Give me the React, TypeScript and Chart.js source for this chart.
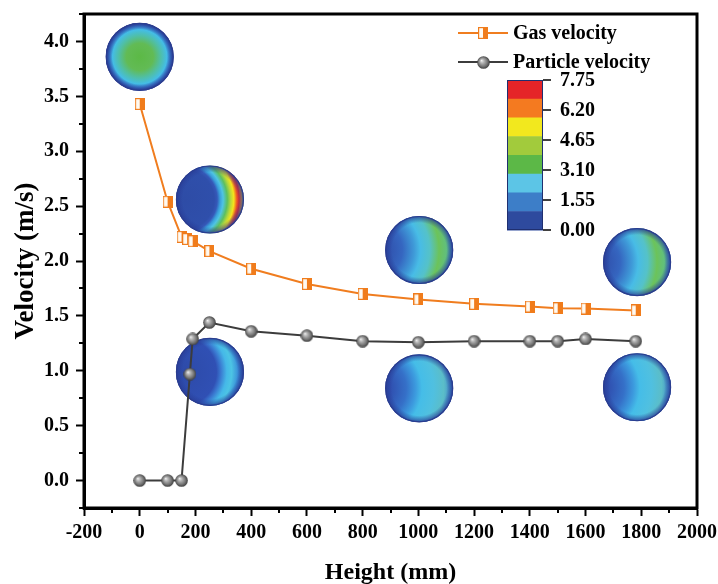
import React, { useEffect, useRef } from "react";
import { Chart, registerables } from "chart.js";

Chart.register(...registerables);

// ---------- data ----------
const gasHeights = [0, 100, 150, 170, 190, 250, 400, 600, 800, 1000, 1200, 1400, 1500, 1600, 1780];
const gasVelocity = [3.43, 2.54, 2.22, 2.2, 2.18, 2.09, 1.93, 1.79, 1.7, 1.65, 1.61, 1.585, 1.57, 1.567, 1.55];
const particleHeights = [0, 100, 150, 180, 190, 250, 400, 600, 800, 1000, 1200, 1400, 1500, 1600, 1780];
const particleVelocity = [0, 0, 0, 0.97, 1.29, 1.44, 1.36, 1.32, 1.27, 1.26, 1.27, 1.27, 1.27, 1.29, 1.27];

const xTicks = [-200, 0, 200, 400, 600, 800, 1000, 1200, 1400, 1600, 1800, 2000];
const yTicks = [0, 0.5, 1.0, 1.5, 2.0, 2.5, 3.0, 3.5, 4.0];
const xMinorTicks = [-100, 100, 300, 500, 700, 900, 1100, 1300, 1500, 1700, 1900];
const yMinorTicks = [-0.25, 0.25, 0.75, 1.25, 1.75, 2.25, 2.75, 3.25, 3.75, 4.25];

const colorbarLabels = ["7.75", "6.20", "4.65", "3.10", "1.55", "0.00"];
const colorbarColors = ["#e52428", "#f47a20", "#f2e81e", "#a2cb3c", "#5cb847", "#5cc5e6", "#3d7ec8", "#2e4a9e"];

// cross-section contour insets, anchored at (height, velocity)
const insetHeights = [0, 252, 252, 1003, 1785, 1003, 1785];
const insetVelocities = [3.86, 2.56, 0.99, 2.1, 1.99, 0.84, 0.85];
const insetKinds = ["center", "hot", "crescent", "mild", "mild", "cool", "cool"];

const FONT = "'Liberation Serif', 'Times New Roman', serif";

function drawDisc(ctx: CanvasRenderingContext2D, cx: number, cy: number, r: number, kind: string) {
  ctx.save();
  ctx.beginPath();
  ctx.arc(cx, cy, r, 0, Math.PI * 2);
  ctx.closePath();
  ctx.clip();
  let g: CanvasGradient;
  if (kind === "center") {
    g = ctx.createRadialGradient(cx, cy, 0, cx, cy, r);
    g.addColorStop(0, "#5cb946");
    g.addColorStop(0.4, "#62bb55");
    g.addColorStop(0.62, "#4fbfa8");
    g.addColorStop(0.8, "#44bde6");
    g.addColorStop(0.9, "#3a84d2");
    g.addColorStop(1, "#2c3f95");
  } else if (kind === "hot") {
    const ox = cx - 0.75 * r;
    g = ctx.createRadialGradient(ox, cy, 0, ox, cy, 1.75 * r);
    g.addColorStop(0, "#2e4ca6");
    g.addColorStop(0.5, "#2f4fab");
    g.addColorStop(0.55, "#3558b8");
    g.addColorStop(0.6, "#3aa0dc");
    g.addColorStop(0.65, "#4fc4e4");
    g.addColorStop(0.72, "#5cbf60");
    g.addColorStop(0.78, "#b8d83a");
    g.addColorStop(0.83, "#f4e41c");
    g.addColorStop(0.88, "#f05a22");
    g.addColorStop(0.92, "#e8262a");
    g.addColorStop(0.96, "#f2a020");
    g.addColorStop(1, "#c8d040");
  } else if (kind === "crescent") {
    const ox = cx - 0.8 * r;
    g = ctx.createRadialGradient(ox, cy, 0, ox, cy, 1.8 * r);
    g.addColorStop(0, "#2d4aa8");
    g.addColorStop(0.55, "#3050b4");
    g.addColorStop(0.62, "#3a78d0");
    g.addColorStop(0.72, "#45b8e8");
    g.addColorStop(0.8, "#4cc4e4");
    g.addColorStop(0.9, "#3a90d8");
    g.addColorStop(1, "#2e56b0");
  } else if (kind === "mild") {
    const ox = cx - 1.3 * r;
    g = ctx.createRadialGradient(ox, cy, 0, ox, cy, 2.3 * r);
    g.addColorStop(0, "#2d48a0");
    g.addColorStop(0.15, "#3050ac");
    g.addColorStop(0.35, "#3566c0");
    g.addColorStop(0.5, "#3f9ad8");
    g.addColorStop(0.58, "#48bce6");
    g.addColorStop(0.7, "#55c2c8");
    g.addColorStop(0.82, "#6cc35a");
    g.addColorStop(0.92, "#60bf80");
    g.addColorStop(1, "#3a80cc");
  } else {
    const ox = cx - 1.3 * r;
    g = ctx.createRadialGradient(ox, cy, 0, ox, cy, 2.3 * r);
    g.addColorStop(0, "#2c46a0");
    g.addColorStop(0.2, "#3050b0");
    g.addColorStop(0.4, "#3570c8");
    g.addColorStop(0.52, "#3c9ade");
    g.addColorStop(0.6, "#45bde8");
    g.addColorStop(0.75, "#50c0e0");
    g.addColorStop(0.88, "#5bbdc8");
    g.addColorStop(1, "#3a80cc");
  }
  ctx.fillStyle = g;
  ctx.fillRect(cx - r, cy - r, 2 * r, 2 * r);
  const e = ctx.createRadialGradient(cx, cy, r * 0.8, cx, cy, r);
  e.addColorStop(0, "rgba(40,60,150,0)");
  e.addColorStop(1, "rgba(40,60,150,0.85)");
  ctx.fillStyle = e;
  ctx.fillRect(cx - r, cy - r, 2 * r, 2 * r);
  ctx.restore();
  ctx.save();
  ctx.beginPath();
  ctx.arc(cx, cy, r - 0.5, 0, Math.PI * 2);
  ctx.strokeStyle = "#2b3d8f";
  ctx.lineWidth = 1.2;
  ctx.stroke();
  ctx.restore();
}

function makeSquare(): HTMLCanvasElement {
  const c = document.createElement("canvas");
  c.width = 10;
  c.height = 12;
  const x = c.getContext("2d")!;
  x.fillStyle = "#fffaf2";
  x.fillRect(0, 0, 10, 12);
  x.fillStyle = "#f07c1c";
  x.fillRect(5, 0, 5, 12);
  x.strokeStyle = "#f07c1c";
  x.lineWidth = 1.2;
  x.strokeRect(0.6, 0.6, 8.8, 10.8);
  return c;
}

function makeSphere(): HTMLCanvasElement {
  const c = document.createElement("canvas");
  c.width = 13;
  c.height = 13;
  const x = c.getContext("2d")!;
  const g = x.createRadialGradient(4.5, 4.5, 0, 6.5, 6.5, 6.5);
  g.addColorStop(0, "#f2f2f2");
  g.addColorStop(0.3, "#b4b4b4");
  g.addColorStop(0.7, "#747474");
  g.addColorStop(1, "#3a3a3a");
  x.fillStyle = g;
  x.beginPath();
  x.arc(6.5, 6.5, 6.3, 0, Math.PI * 2);
  x.fill();
  return c;
}

export default function App() {
  const ref = useRef<HTMLCanvasElement | null>(null);

  useEffect(() => {
    if (!ref.current) return;
    const square = makeSquare();
    const sphere = makeSphere();
    const markers = [square, sphere];

    const decor = {
      id: "decor",
      beforeDatasetsDraw(chart: any) {
        const { ctx } = chart;
        const xs = chart.scales.x;
        const ys = chart.scales.y;
        for (let i = 0; i < insetKinds.length; i++) {
          drawDisc(ctx, xs.getPixelForValue(insetHeights[i]), ys.getPixelForValue(insetVelocities[i]), 34, insetKinds[i]);
        }
      },
      afterDraw(chart: any) {
        const { ctx, chartArea: ca } = chart;
        const xs = chart.scales.x;
        const ys = chart.scales.y;
        ctx.save();
        // minor ticks
        ctx.strokeStyle = "#000";
        ctx.lineWidth = 2;
        ctx.beginPath();
        xMinorTicks.forEach((v) => {
          const px = Math.round(xs.getPixelForValue(v));
          ctx.moveTo(px, ca.bottom);
          ctx.lineTo(px, ca.bottom + 5);
        });
        yMinorTicks.forEach((v) => {
          const py = Math.round(ys.getPixelForValue(v));
          ctx.moveTo(ca.left, py);
          ctx.lineTo(ca.left - 5, py);
        });
        ctx.stroke();
        // frame
        ctx.lineWidth = 3;
        ctx.strokeRect(ca.left, ca.top, ca.right - ca.left, ca.bottom - ca.top);

        // axis titles
        ctx.fillStyle = "#000";
        ctx.font = `bold 24px ${FONT}`;
        ctx.textAlign = "center";
        ctx.textBaseline = "alphabetic";
        ctx.fillText("Height (mm)", (ca.left + ca.right) / 2, 579);
        ctx.save();
        ctx.translate(33, (ca.top + ca.bottom) / 2);
        ctx.rotate(-Math.PI / 2);
        ctx.font = `bold 27px ${FONT}`;
        ctx.fillText("Velocity (m/s)", 0, 0);
        ctx.restore();

        // legend
        const lx0 = ca.right - 239;
        const lx1 = ca.right - 189;
        chart.data.datasets.forEach((ds: any, i: number) => {
          const ly = ca.top + 19 + i * 29;
          ctx.strokeStyle = ds.borderColor;
          ctx.lineWidth = 2;
          ctx.beginPath();
          ctx.moveTo(lx0, ly);
          ctx.lineTo(lx1, ly);
          ctx.stroke();
          const m = markers[i];
          ctx.drawImage(m, Math.round((lx0 + lx1) / 2 - m.width / 2), Math.round(ly - m.height / 2));
          ctx.fillStyle = "#000";
          ctx.font = `bold 20px ${FONT}`;
          ctx.textAlign = "left";
          ctx.textBaseline = "middle";
          ctx.fillText(ds.label, lx1 + 5, ly + 1);
        });

        // colour bar
        const bx = ca.right - 190;
        const bw = 36;
        const by = ca.top + 66;
        const bh = 150;
        const band = bh / colorbarColors.length;
        colorbarColors.forEach((c, i) => {
          ctx.fillStyle = c;
          ctx.fillRect(bx, by + i * band, bw, band + 0.5);
        });
        ctx.strokeStyle = "#1f2f70";
        ctx.lineWidth = 1;
        ctx.strokeRect(bx + 0.5, by + 0.5, bw - 1, bh - 1);
        ctx.strokeStyle = "#000";
        ctx.lineWidth = 1.5;
        ctx.font = `bold 20px ${FONT}`;
        ctx.fillStyle = "#000";
        ctx.textAlign = "left";
        ctx.textBaseline = "middle";
        const step = bh / (colorbarLabels.length - 1);
        colorbarLabels.forEach((t, i) => {
          const ty = by + i * step;
          ctx.beginPath();
          ctx.moveTo(bx + bw, ty);
          ctx.lineTo(bx + bw + 8, ty);
          ctx.stroke();
          ctx.fillText(t, bx + bw + 17, ty + 1);
        });
        ctx.restore();
      },
    };

    const tickFont = { family: FONT, size: 20, weight: "bold" as const };

    const chart = new Chart(ref.current, {
      type: "scatter",
      data: {
        datasets: [
          {
            label: "Gas velocity",
            data: gasHeights.map((x, i) => ({ x, y: gasVelocity[i] })),
            showLine: true,
            borderColor: "#f07d1f",
            borderWidth: 2,
            pointStyle: square as any,
            pointRadius: 5,
          },
          {
            label: "Particle velocity",
            data: particleHeights.map((x, i) => ({ x, y: particleVelocity[i] })),
            showLine: true,
            borderColor: "#3c3c3c",
            borderWidth: 2,
            pointStyle: sphere as any,
            pointRadius: 6,
          },
        ],
      },
      options: {
        animation: false,
        responsive: false,
        layout: { padding: { top: 14, right: 21, left: 0, bottom: 0 } },
        plugins: { legend: { display: false }, tooltip: { enabled: false } },
        scales: {
          x: {
            type: "linear",
            min: -200,
            max: 2000,
            afterBuildTicks: (s: any) => {
              s.ticks = xTicks.map((v) => ({ value: v }));
            },
            afterFit: (s: any) => {
              s.height = 76;
              s.paddingLeft = 0;
              s.paddingRight = 0;
            },
            ticks: {
              callback: (v: any) => String(v),
              font: tickFont,
              color: "#000",
              padding: 5,
              maxRotation: 0,
              autoSkip: false,
            },
            grid: { drawOnChartArea: false, drawTicks: true, tickLength: 8, tickWidth: 2, tickColor: "#000" },
            border: { display: true, color: "#000", width: 3 },
          },
          y: {
            type: "linear",
            min: -0.25,
            max: 4.25,
            afterBuildTicks: (s: any) => {
              s.ticks = yTicks.map((v) => ({ value: v }));
            },
            afterFit: (s: any) => {
              s.width = 84;
              s.paddingTop = 0;
              s.paddingBottom = 0;
            },
            ticks: {
              callback: (v: any) => Number(v).toFixed(1),
              font: tickFont,
              color: "#000",
              padding: 7,
              autoSkip: false,
            },
            grid: { drawOnChartArea: false, drawTicks: true, tickLength: 8, tickWidth: 2, tickColor: "#000" },
            border: { display: true, color: "#000", width: 3 },
          },
        },
      },
      plugins: [decor],
    });
    return () => chart.destroy();
  }, []);

  return (
    <div style={{ position: "absolute", left: 0, top: 0, width: 718, height: 584, background: "#fff" }}>
      <canvas ref={ref} width={718} height={584} style={{ display: "block" }} />
    </div>
  );
}
